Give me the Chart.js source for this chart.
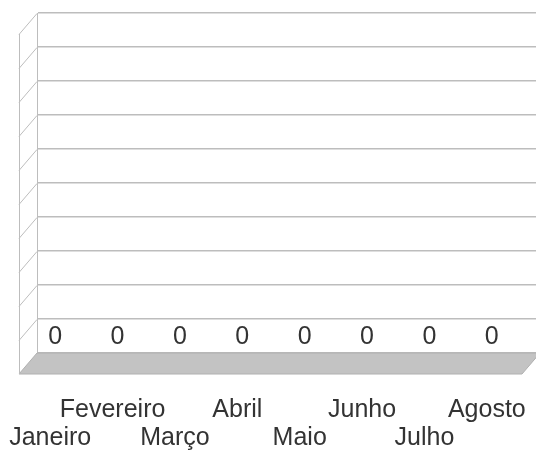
<!DOCTYPE html>
<html>
<head>
<meta charset="utf-8">
<script src="https://cdn.jsdelivr.net/npm/chart.js@4/dist/chart.umd.min.js"></script>
<style>
  html, body { margin: 0; padding: 0; background: #ffffff; }
  canvas { display: block; }
</style>
</head>
<body>
<canvas id="c" width="536" height="450"></canvas>
<script>
const categories = ['Janeiro', 'Fevereiro', 'Março', 'Abril', 'Maio', 'Junho', 'Julho', 'Agosto'];
const values = [0, 0, 0, 0, 0, 0, 0, 0];
const yMin = 0;
const yMax = 10;

const FONT = '"Liberation Sans", Arial, sans-serif';
const GRID = '#bdbdbd';
const TEXT = '#333333';
const DEPTH_X = 18, DEPTH_Y = 21;

const depthPlugin = {
  id: 'depth3d',
  beforeDatasetsDraw(chart) {
    const ctx = chart.ctx;
    const a = chart.chartArea;
    const ys = chart.scales.y;
    ctx.save();
    // floor
    const yb = ys.getPixelForValue(yMin);
    ctx.beginPath();
    ctx.moveTo(a.left, yb);
    ctx.lineTo(a.right + 4, yb);
    ctx.lineTo(a.right + 4 - DEPTH_X, yb + DEPTH_Y);
    ctx.lineTo(a.left - DEPTH_X, yb + DEPTH_Y);
    ctx.closePath();
    ctx.fillStyle = '#c3c3c3';
    ctx.fill();
    ctx.strokeStyle = '#b0b0b0';
    ctx.lineWidth = 1;
    ctx.stroke();
    // side wall
    ctx.strokeStyle = GRID;
    ctx.lineWidth = 1;
    for (let v = yMin + 1; v <= yMax; v++) {
      const y = ys.getPixelForValue(v);
      ctx.beginPath();
      ctx.moveTo(a.left, y + 0.5);
      ctx.lineTo(a.left - DEPTH_X, y + DEPTH_Y + 0.5);
      ctx.stroke();
    }
    ctx.beginPath();
    ctx.moveTo(a.left - DEPTH_X + 0.5, ys.getPixelForValue(yMax) + DEPTH_Y);
    ctx.lineTo(a.left - DEPTH_X + 0.5, yb + DEPTH_Y);
    ctx.stroke();
    ctx.restore();
  },
  afterDatasetsDraw(chart) {
    const ctx = chart.ctx;
    const meta = chart.getDatasetMeta(0);
    const ys = chart.scales.y;
    ctx.save();
    ctx.font = '25px ' + FONT;
    ctx.fillStyle = TEXT;
    ctx.textAlign = 'center';
    ctx.textBaseline = 'alphabetic';
    meta.data.forEach((el, i) => {
      const v = chart.data.datasets[0].data[i];
      ctx.fillText(String(v), el.x - 13, ys.getPixelForValue(v) - 9);
    });
    ctx.restore();
  }
};

new Chart(document.getElementById('c'), {
  type: 'bar',
  data: {
    labels: categories,
    datasets: [{ data: values, backgroundColor: '#004586', borderWidth: 0 }]
  },
  options: {
    responsive: false,
    animation: false,
    devicePixelRatio: 1,
    layout: { padding: { top: 13, left: 37, right: 0, bottom: 0 } },
    plugins: { legend: { display: false }, tooltip: { enabled: false } },
    scales: {
      x: {
        grid: { display: false, drawTicks: false },
        border: { display: false },
        ticks: {
          color: TEXT,
          font: { family: FONT, size: 25, lineHeight: 28 / 25 },
          padding: 43,
          labelOffset: -18,
          maxRotation: 0,
          minRotation: 0,
          autoSkip: false,
          callback: function (value, index) {
            const lbl = this.getLabelForValue(value);
            return index % 2 === 0 ? ['', lbl] : [lbl, ''];
          }
        },
        afterFit(scale) {
          scale.height = 97;
          scale.paddingLeft = 0;
          scale.paddingRight = 0;
        }
      },
      y: {
        min: yMin,
        max: yMax,
        ticks: { display: false, stepSize: 1 },
        grid: { color: GRID, drawTicks: false, lineWidth: 1.5 },
        border: { display: true, color: GRID, width: 1 },
        afterFit(scale) {
          scale.width = 0;
          scale.paddingTop = 0;
          scale.paddingBottom = 0;
        }
      }
    }
  },
  plugins: [depthPlugin]
});
</script>
</body>
</html>
